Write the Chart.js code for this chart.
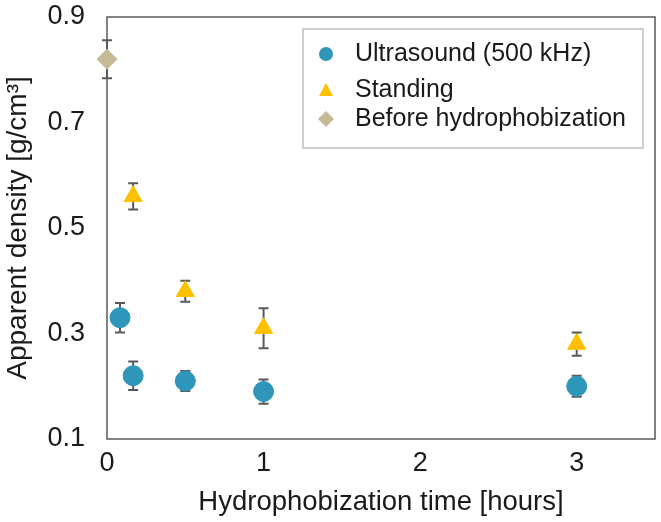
<!DOCTYPE html>
<html lang="en">
<head>
<meta charset="UTF-8">
<title>Apparent density vs hydrophobization time</title>
<script src="https://cdn.jsdelivr.net/npm/chart.js"></script>
<style>
    html, body { margin: 0; padding: 0; background: #fff; }
    #wrap { width: 661px; height: 522px; }
</style>
</head>
<body>
<div id="wrap"><canvas id="densityChart"></canvas></div>
<script>
    // data (time in hours, density in g/cm3)
    const ultrasoundTime = [0.083, 0.167, 0.5, 1, 3];
    const ultrasoundDensity = [0.33, 0.22, 0.21, 0.19, 0.20];
    const ultrasoundError = [0.028, 0.027, 0.019, 0.023, 0.02];

    const standingTime = [0.167, 0.5, 1, 3];
    const standingDensity = [0.56, 0.38, 0.31, 0.28];
    const standingError = [0.025, 0.02, 0.038, 0.022];

    const beforeTime = [0];
    const beforeDensity = [0.82];
    const beforeError = [0.036];

    const xTicks = [0, 1, 2, 3];
    const yTicks = [0.1, 0.3, 0.5, 0.7, 0.9];

    const toPoints = (xs, ys) => xs.map((x, i) => ({ x: x, y: ys[i] }));
    const fontFamily = '"Liberation Sans", Arial, sans-serif';

    // error bars drawn under the markers
    const errorBars = {
        id: 'errorBars',
        beforeDatasetsDraw(chart) {
            const ctx = chart.ctx;
            const xs = chart.scales.x, ys = chart.scales.y;
            ctx.save();
            ctx.strokeStyle = '#595959';
            ctx.lineWidth = 2;
            chart.data.datasets.forEach(ds => {
                ds.data.forEach((p, i) => {
                    const e = ds.errors[i];
                    const px = xs.getPixelForValue(p.x);
                    const top = ys.getPixelForValue(p.y + e);
                    const bot = ys.getPixelForValue(p.y - e);
                    ctx.beginPath();
                    ctx.moveTo(px, top); ctx.lineTo(px, bot);
                    ctx.moveTo(px - 5, top); ctx.lineTo(px + 5, top);
                    ctx.moveTo(px - 5, bot); ctx.lineTo(px + 5, bot);
                    ctx.stroke();
                });
            });
            ctx.restore();
        }
    };

    // frame round the plot and the boxed legend inside it
    const frameAndLegend = {
        id: 'frameAndLegend',
        beforeDatasetsDraw(chart) {
            const ctx = chart.ctx;
            const a = chart.chartArea;
            ctx.save();
            ctx.strokeStyle = '#595959';
            ctx.lineWidth = 1.5;
            ctx.strokeRect(a.left, a.top, a.right - a.left, a.bottom - a.top);
            ctx.restore();
        },
        afterDraw(chart) {
            const ctx = chart.ctx;
            const a = chart.chartArea;
            ctx.save();
            const bx = a.right - 352, by = a.top + 12, bw = 340, bh = 119;
            ctx.fillStyle = '#fff';
            ctx.fillRect(bx, by, bw, bh);
            ctx.strokeStyle = '#bfbfbf';
            ctx.lineWidth = 1.5;
            ctx.strokeRect(bx, by, bw, bh);

            const rows = [25, 61, 90];
            ctx.font = '25px ' + fontFamily;
            ctx.textBaseline = 'middle';
            chart.data.datasets.forEach((ds, i) => {
                const cx = bx + 23, cy = by + rows[i];
                ctx.fillStyle = ds.backgroundColor;
                ctx.beginPath();
                if (ds.pointStyle === 'circle') {
                    ctx.arc(cx, cy, 7, 0, Math.PI * 2);
                } else if (ds.pointStyle === 'triangle') {
                    ctx.moveTo(cx, cy - 7); ctx.lineTo(cx + 7, cy + 6); ctx.lineTo(cx - 7, cy + 6);
                } else {
                    ctx.moveTo(cx, cy - 8); ctx.lineTo(cx + 8, cy); ctx.lineTo(cx, cy + 8); ctx.lineTo(cx - 8, cy);
                }
                ctx.closePath();
                ctx.fill();
                ctx.fillStyle = '#1a1a1a';
                ctx.fillText(ds.label, bx + 52, cy);
            });
            ctx.restore();
        }
    };

    new Chart(document.getElementById('densityChart'), {
        type: 'scatter',
        data: {
            datasets: [
                {
                    label: 'Ultrasound (500 kHz)',
                    data: toPoints(ultrasoundTime, ultrasoundDensity),
                    errors: ultrasoundError,
                    pointStyle: 'circle',
                    pointRadius: 10,
                    backgroundColor: '#2e96b9',
                    borderColor: '#2e96b9',
                    clip: false
                },
                {
                    label: 'Standing',
                    data: toPoints(standingTime, standingDensity),
                    errors: standingError,
                    pointStyle: 'triangle',
                    pointRadius: 10.5,
                    backgroundColor: '#ffc000',
                    borderColor: '#ffc000',
                    clip: false
                },
                {
                    label: 'Before hydrophobization',
                    data: toPoints(beforeTime, beforeDensity),
                    errors: beforeError,
                    pointStyle: 'rectRot',
                    pointRadius: 10,
                    backgroundColor: '#c8b996',
                    borderColor: '#c8b996',
                    clip: false
                }
            ]
        },
        options: {
            responsive: true,
            maintainAspectRatio: false,
            animation: false,
            layout: { autoPadding: false, padding: { left: 0, top: 17, right: 6, bottom: 0 } },
            plugins: {
                legend: { display: false },
                tooltip: { enabled: false }
            },
            scales: {
                x: {
                    type: 'linear',
                    min: 0,
                    max: 3.5,
                    grid: { display: false, drawTicks: false },
                    border: { display: false },
                    afterBuildTicks: s => { s.ticks = xTicks.map(v => ({ value: v })); },
                    afterFit: s => { s.height = 83; s.paddingLeft = 0; s.paddingRight = 0; },
                    ticks: {
                        padding: 8,
                        color: '#1a1a1a',
                        font: { family: fontFamily, size: 27 },
                        callback: v => String(v)
                    },
                    title: {
                        display: true,
                        text: 'Hydrophobization time [hours]',
                        color: '#1a1a1a',
                        font: { family: fontFamily, size: 27.5 },
                        padding: { top: 4, bottom: 3 }
                    }
                },
                y: {
                    min: 0.1,
                    max: 0.9,
                    grid: { display: false, drawTicks: false },
                    border: { display: false },
                    afterBuildTicks: s => { s.ticks = yTicks.map(v => ({ value: v })); },
                    afterFit: s => { s.width = 107; s.paddingTop = 0; s.paddingBottom = 0; },
                    ticks: {
                        padding: 22,
                        color: '#1a1a1a',
                        font: { family: fontFamily, size: 27 },
                        callback: v => v.toFixed(1)
                    },
                    title: {
                        display: true,
                        text: 'Apparent density [g/cm³]',
                        color: '#1a1a1a',
                        font: { family: fontFamily, size: 28 },
                        padding: { top: 1, bottom: 0 }
                    }
                }
            }
        },
        plugins: [errorBars, frameAndLegend]
    });
</script>
</body>
</html>
